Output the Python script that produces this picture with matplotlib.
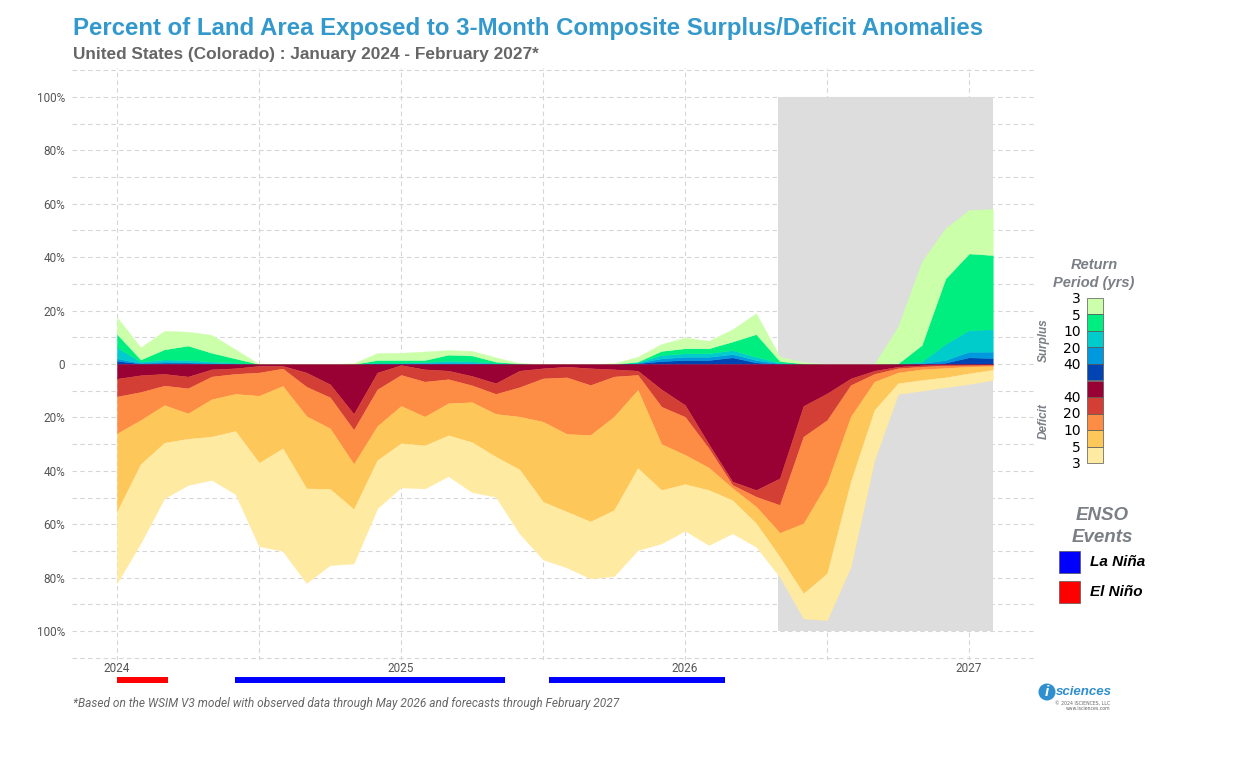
import matplotlib
matplotlib.use("Agg")
import matplotlib.pyplot as plt
import matplotlib.transforms as mtransforms
from matplotlib.patches import Rectangle, Ellipse
import numpy as np

# month index 0 = January 2024 ... 37 = February 2027
months = np.arange(38)
year_ticks = [0, 12, 24, 36]
year_labels = ["2024", "2025", "2026", "2027"]
forecast_start = 28  # May 2026

# surplus: % of area with return period >= N years (cumulative)
sur_40 = [1.2, 0.2, 0.5, 0.5, 0.2, 0, 0, 0, 0, 0, 0, 0, 0, 0, 0, 0, 0, 0, 0, 0,
          0, 0, 0.3, 1.1, 1.5, 1.5, 2.5, 0.6, 0, 0, 0, 0, 0, 0, 0, 0.5, 2.5, 2.2]
sur_20 = [2.1, 0.4, 0.9, 0.7, 0.4, 0.2, 0, 0, 0, 0, 0, 0.3, 0.3, 0.4, 0.5, 0.4, 0.2, 0, 0, 0,
          0, 0, 0.5, 2.1, 2.7, 2.7, 3.7, 1.5, 0.2, 0, 0, 0, 0, 0, 0.3, 1.5, 4.6, 4.6]
sur_10 = [6.2, 0.9, 1.7, 1.5, 0.9, 0.5, 0, 0, 0, 0, 0, 0.5, 0.5, 0.7, 1.2, 1.0, 0.4, 0.1, 0, 0,
          0, 0, 0.6, 3.4, 4.0, 4.0, 5.2, 2.7, 0.5, 0, 0, 0, 0, 0, 0.9, 7.5, 12.7, 13.0]
sur_5 = [11.2, 1.7, 5.5, 6.9, 4.2, 2.1, 0, 0, 0, 0, 0, 1.5, 1.5, 1.5, 3.5, 3.2, 0.9, 0.2, 0, 0,
         0, 0, 0.9, 4.9, 5.9, 5.9, 8.4, 11.2, 1.1, 0.2, 0, 0, 0, 0.2, 7.1, 32.0, 41.4, 40.8]
sur_3 = [17.5, 6.2, 12.4, 12.1, 10.9, 5.5, 0, 0, 0, 0, 0.3, 4.1, 4.2, 4.7, 5.2, 4.9, 2.5, 0.3, 0, 0,
         0, 0.3, 2.7, 7.5, 9.9, 8.7, 13.0, 19.0, 2.8, 0.7, 0, 0, 0, 14.0, 38.3, 50.8, 57.7, 58.0]

# deficit: % of area with return period >= N years (cumulative)
def_40 = [5.5, 4.2, 3.7, 4.7, 2.0, 1.6, 0.7, 0.7, 3.2, 7.6, 18.7, 3.2, 0.4, 2.0, 2.5, 4.5, 7.2, 2.5, 1.6, 1.0,
          1.6, 2.0, 2.5, 9.5, 15.4, 30.0, 44.0, 47.2, 42.8, 15.7, 11.0, 5.4, 2.5, 1.0, 0.5, 0.3, 0.3, 0.2]
def_20 = [12.2, 10.5, 8.1, 9.1, 4.7, 3.7, 3.2, 1.7, 8.5, 12.5, 24.7, 9.5, 4.1, 6.6, 5.7, 8.0, 11.2, 8.7, 5.4, 5.0,
          7.9, 4.7, 4.1, 16.0, 19.8, 31.6, 45.3, 49.7, 52.8, 27.2, 21.0, 7.9, 3.7, 1.6, 1.0, 0.6, 0.5, 0.4]
def_10 = [26.0, 21.0, 15.4, 18.5, 13.2, 11.2, 11.9, 8.2, 19.5, 24.1, 37.5, 23.2, 15.7, 19.7, 14.7, 14.3, 18.7, 19.7, 21.6, 26.2,
          26.6, 19.7, 9.7, 30.0, 34.0, 38.8, 46.5, 53.4, 63.2, 59.7, 44.7, 19.7, 6.6, 3.2, 2.0, 1.5, 1.0, 0.8]
def_5 = [55.3, 37.5, 29.5, 28.0, 27.2, 25.1, 37.0, 31.6, 46.6, 46.8, 54.4, 36.0, 29.7, 30.5, 26.7, 29.3, 34.7, 39.5, 51.6, 55.3,
         59.0, 54.7, 39.0, 47.2, 45.0, 47.2, 51.0, 59.7, 72.2, 85.9, 78.4, 44.0, 17.2, 7.2, 6.0, 5.0, 3.5, 2.2]
def_3 = [82.0, 67.0, 50.3, 45.3, 43.4, 48.7, 68.2, 70.0, 82.0, 75.3, 74.7, 54.0, 46.2, 46.6, 42.0, 48.0, 49.7, 63.4, 73.2, 76.2,
         80.3, 79.4, 69.7, 67.2, 62.4, 67.8, 63.4, 68.4, 79.7, 95.3, 95.9, 75.9, 36.0, 11.2, 10.0, 8.7, 7.5, 6.0]

surplus_colors = ["#0044b3", "#0099dd", "#00cccc", "#00ee80", "#ccffaa"]   # 40, 20, 10, 5, 3
deficit_colors = ["#990033", "#d43f35", "#fd8c44", "#fec75a", "#ffeaa1"]   # 40, 20, 10, 5, 3

# ENSO events, start/end in month index
la_nina = [(4.98, 16.4), (18.25, 25.7)]
el_nino = [(0.0, 2.15)]

W, H = 1248, 768


def fx(px):
    return px / W


def fy(py):
    return 1 - py / H


def main():
    fig = plt.figure(figsize=(12.48, 7.68), dpi=100)
    ax = fig.add_axes([fx(72), fy(660.4), fx(1037) - fx(72), fy(67.6) - fy(660.4)])

    # dashed grid, drawn by hand so every line shows
    for yv in range(-110, 111, 10):
        ax.axhline(yv, color="#d6d6d6", linestyle=(0, (4, 3)), lw=0.8, zorder=0)
    for xv in range(0, 37, 6):
        ax.axvline(xv, color="#d6d6d6", linestyle=(0, (4, 3)), lw=0.8, zorder=0)

    # forecast shading
    ax.add_patch(Rectangle((forecast_start - 0.07, -100), 37 - forecast_start + 0.07, 200,
                           facecolor="#dddddd", edgecolor="none", zorder=1))

    prev = np.zeros(len(months))
    for vals, col in zip([sur_40, sur_20, sur_10, sur_5, sur_3], surplus_colors):
        v = np.array(vals)
        ax.fill_between(months, prev, v, facecolor=col, edgecolor=col, lw=0.3, zorder=3)
        prev = v
    prev = np.zeros(len(months))
    for vals, col in zip([def_40, def_20, def_10, def_5, def_3], deficit_colors):
        v = -np.array(vals)
        ax.fill_between(months, prev, v, facecolor=col, edgecolor=col, lw=0.3, zorder=3)
        prev = v

    ax.set_xlim(-1.9, 38.87)
    ax.set_ylim(-111, 111)
    for s in ax.spines.values():
        s.set_visible(False)

    ax.set_yticks(np.arange(-100, 101, 20))
    ax.set_yticklabels([f"{abs(v)}%" if v != 0 else "0" for v in range(-100, 101, 20)])
    ax.set_xticks(year_ticks)
    ax.set_xticklabels(year_labels)
    ax.tick_params(which="both", length=0)
    ax.tick_params(axis="y", pad=5, labelsize=8.5, labelcolor="#555555")
    ax.tick_params(axis="x", pad=1, labelsize=8.5, labelcolor="#555555")
    for lab in ax.get_xticklabels() + ax.get_yticklabels():
        lab.set_family("Roboto")

    # ENSO bars below the axis
    trans = mtransforms.blended_transform_factory(ax.transData, fig.transFigure)
    for a, b in la_nina:
        ax.plot([a, b], [fy(680), fy(680)], color="#0000ff", lw=4.3,
                solid_capstyle="butt", transform=trans, clip_on=False)
    for a, b in el_nino:
        ax.plot([a, b], [fy(680), fy(680)], color="#ff0000", lw=4.3,
                solid_capstyle="butt", transform=trans, clip_on=False)

    # titles
    fig.text(fx(73), fy(29), "Percent of Land Area Exposed to 3-Month Composite Surplus/Deficit Anomalies",
             color="#3399cc", fontsize=17.3, fontweight="bold", family="Liberation Sans", va="center")
    fig.text(fx(73), fy(54.5), "United States (Colorado) : January 2024 - February 2027*",
             color="#666666", fontsize=12.4, fontweight="bold", family="Liberation Sans", va="center")
    fig.text(fx(73), fy(704), "*Based on the WSIM V3 model with observed data through May 2026 "
             "and forecasts through February 2027",
             color="#666666", fontsize=8.6, style="italic", family="Roboto", va="center")

    # return period legend
    gray = "#7a7e85"
    fig.text(fx(1094), fy(265), "Return", color=gray, fontsize=10.5, fontweight="bold",
             style="italic", ha="center", va="center", family="Liberation Sans")
    fig.text(fx(1094), fy(283), "Period (yrs)", color=gray, fontsize=10.5, fontweight="bold",
             style="italic", ha="center", va="center", family="Liberation Sans")
    cells = surplus_colors[::-1] + deficit_colors
    top, cell_h = 298, 16.5
    for i, c in enumerate(cells):
        fig.patches.append(Rectangle((fx(1087), fy(top + (i + 1) * cell_h)), fx(16), cell_h / H,
                                     facecolor=c, edgecolor="#555555", lw=0.5,
                                     transform=fig.transFigure))
    sur_labels = ["3", "5", "10", "20", "40"]
    for i, t in enumerate(sur_labels):
        fig.text(fx(1081), fy(top + 1.5 + i * cell_h), t, fontsize=10, ha="right", va="center",
                 family="DejaVu Sans")
    for i, t in enumerate(sur_labels[::-1]):
        fig.text(fx(1081), fy(top + 1 + (6 + i) * cell_h), t, fontsize=10, ha="right", va="center",
                 family="DejaVu Sans")
    fig.text(fx(1044), fy(340), "Surplus", color=gray, fontsize=8.5, fontweight="bold",
             style="italic", rotation=90, ha="center", va="center", family="Liberation Sans")
    fig.text(fx(1044), fy(421), "Deficit", color=gray, fontsize=8.5, fontweight="bold",
             style="italic", rotation=90, ha="center", va="center", family="Liberation Sans")

    # ENSO legend
    fig.text(fx(1102), fy(515), "ENSO", color=gray, fontsize=13.5, fontweight="bold",
             style="italic", ha="center", va="center", family="Liberation Sans")
    fig.text(fx(1102), fy(538), "Events", color=gray, fontsize=13.5, fontweight="bold",
             style="italic", ha="center", va="center", family="Liberation Sans")
    for yy, col, lab in [(562, "#0000ff", "La Niña"), (592, "#ff0000", "El Niño")]:
        fig.patches.append(Rectangle((fx(1059), fy(yy + 11)), fx(21), 22 / H, facecolor=col,
                                     edgecolor="#555555", lw=0.5, transform=fig.transFigure))
        fig.text(fx(1090), fy(yy), lab, fontsize=11, fontweight="bold", style="italic",
                 va="center", family="Liberation Sans")

    # logo
    fig.patches.append(Ellipse((fx(1047), fy(692)), 17 / W, 17 / H, facecolor="#2f8fcf",
                               edgecolor="none", transform=fig.transFigure))
    fig.text(fx(1047), fy(692), "i", color="white", fontsize=11, fontweight="bold",
             style="italic", ha="center", va="center", family="Liberation Sans")
    fig.text(fx(1056), fy(692), "sciences", color="#2f8fcf", fontsize=9.5, fontweight="bold",
             style="italic", va="center", family="Liberation Sans")
    fig.text(fx(1110), fy(703), "\u00a9 2024 ISCIENCES, LLC", color="#666666", fontsize=3.3,
             ha="right", va="center")
    fig.text(fx(1110), fy(708), "www.isciences.com", color="#666666", fontsize=3.3,
             ha="right", va="center")

    fig.savefig("out.png", dpi=100, facecolor="white")


if __name__ == "__main__":
    main()
